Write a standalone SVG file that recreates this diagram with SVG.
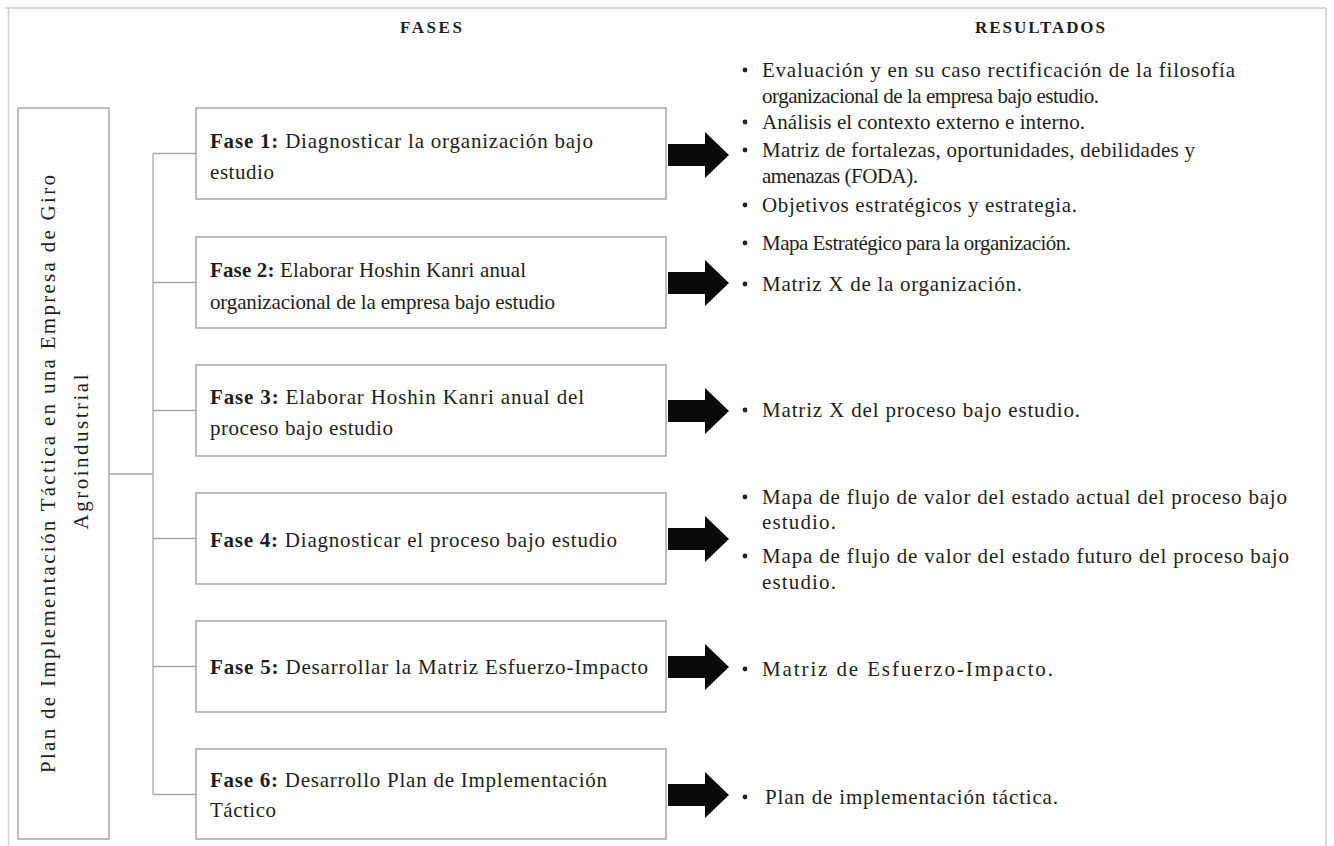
<svg xmlns="http://www.w3.org/2000/svg" width="1334" height="846" viewBox="0 0 1334 846">
  <style>
    .frame { stroke: #cfcfcf; stroke-width: 1.5; fill: none; }
    .box { fill: #ffffff; stroke: #9a9a9a; stroke-width: 1.3; }
    .link { stroke: #a8a8a8; stroke-width: 1.3; fill: none; }
    .arrow { fill: #0a0a0a; }
    .txt { font-family: "Liberation Serif", "Times New Roman", serif; font-size: 21px; fill: #1e1e1e; }
    .hdr { font-family: "Liberation Serif", "Times New Roman", serif; font-size: 17px; font-weight: bold; fill: #1e1e1e; }
    .b { font-weight: bold; }
    .dot { fill: #222222; }
  </style>
  <defs>
    <polygon id="blockArrow" class="arrow" points="0,-11 37,-11 37,-23 61,0 37,23 37,11 0,11"/>
  </defs>

  <rect width="1334" height="846" fill="#ffffff"/>

  <!-- outer page frame -->
  <g id="frame">
    <line class="frame" x1="5" y1="8" x2="1326" y2="8"/>
    <line class="frame" x1="8.5" y1="8" x2="8.5" y2="846" stroke="#bdbdbd"/>
    <line class="frame" x1="1326" y1="8" x2="1326" y2="846"/>
  </g>

  <!-- column headers -->
  <text class="hdr" x="400" y="33" textLength="62">FASES</text>
  <text class="hdr" x="975" y="33" textLength="130">RESULTADOS</text>

  <!-- root node -->
  <g id="root">
    <rect class="box" x="18" y="108" width="91" height="731"/>
    <text class="txt" font-size="23" text-anchor="middle" textLength="598" transform="translate(55,474) rotate(-90)">Plan de Implementación Táctica en una Empresa de Giro</text>
    <text class="txt" font-size="23" text-anchor="middle" textLength="155" transform="translate(88,452) rotate(-90)">Agroindustrial</text>
  </g>

  <!-- tree connectors -->
  <g id="connectors">
    <line class="link" x1="109" y1="474" x2="153" y2="474"/>
    <line class="link" x1="153" y1="153.5" x2="153" y2="794.5"/>
    <line class="link" x1="153" y1="153.5" x2="196" y2="153.5"/>
    <line class="link" x1="153" y1="282.5" x2="196" y2="282.5"/>
    <line class="link" x1="153" y1="410.5" x2="196" y2="410.5"/>
    <line class="link" x1="153" y1="538.5" x2="196" y2="538.5"/>
    <line class="link" x1="153" y1="666.5" x2="196" y2="666.5"/>
    <line class="link" x1="153" y1="794.5" x2="196" y2="794.5"/>
    <use href="#blockArrow" x="668" y="155"/>
    <use href="#blockArrow" x="668" y="283"/>
    <use href="#blockArrow" x="668" y="411"/>
    <use href="#blockArrow" x="668" y="539"/>
    <use href="#blockArrow" x="668" y="667"/>
    <use href="#blockArrow" x="668" y="795"/>
  </g>

  <!-- phases -->
  <g id="fase1">
    <rect class="box" x="196" y="108" width="470" height="91"/>
    <text class="txt" x="210" y="148" textLength="383"><tspan class="b">Fase 1:</tspan> Diagnosticar la organización bajo</text>
    <text class="txt" x="210" y="179" textLength="64">estudio</text>
  </g>
  <g id="fase2">
    <rect class="box" x="196" y="237" width="470" height="91"/>
    <text class="txt" x="210" y="277" textLength="316"><tspan class="b">Fase 2:</tspan> Elaborar Hoshin Kanri anual</text>
    <text class="txt" x="210" y="309" textLength="345">organizacional de la empresa bajo estudio</text>
  </g>
  <g id="fase3">
    <rect class="box" x="196" y="365" width="470" height="91"/>
    <text class="txt" x="210" y="404" textLength="374"><tspan class="b">Fase 3:</tspan> Elaborar Hoshin Kanri anual del</text>
    <text class="txt" x="210" y="435" textLength="183">proceso bajo estudio</text>
  </g>
  <g id="fase4">
    <rect class="box" x="196" y="493" width="470" height="91"/>
    <text class="txt" x="210" y="547" textLength="407"><tspan class="b">Fase 4:</tspan> Diagnosticar el proceso bajo estudio</text>
  </g>
  <g id="fase5">
    <rect class="box" x="196" y="621" width="470" height="91"/>
    <text class="txt" x="210" y="674" textLength="438"><tspan class="b">Fase 5:</tspan> Desarrollar la Matriz Esfuerzo-Impacto</text>
  </g>
  <g id="fase6">
    <rect class="box" x="196" y="749" width="470" height="90"/>
    <text class="txt" x="210" y="787" textLength="397"><tspan class="b">Fase 6:</tspan> Desarrollo Plan de Implementación</text>
    <text class="txt" x="210" y="817" textLength="66">Táctico</text>
  </g>

  <!-- results -->
  <g id="resultados1">
    <circle class="dot" cx="745" cy="70" r="2.4"/>
    <text class="txt" x="762" y="77" textLength="473">Evaluación y en su caso rectificación de la filosofía</text>
    <text class="txt" x="762" y="103" textLength="337">organizacional de la empresa bajo estudio.</text>
    <circle class="dot" cx="745" cy="122" r="2.4"/>
    <text class="txt" x="762" y="129" textLength="323">Análisis el contexto externo e interno.</text>
    <circle class="dot" cx="745" cy="150" r="2.4"/>
    <text class="txt" x="762" y="157" textLength="433">Matriz de fortalezas, oportunidades, debilidades y</text>
    <text class="txt" x="762" y="183" textLength="156">amenazas (FODA).</text>
    <circle class="dot" cx="745" cy="205" r="2.4"/>
    <text class="txt" x="762" y="212" textLength="315">Objetivos estratégicos y estrategia.</text>
  </g>
  <g id="resultados2">
    <circle class="dot" cx="745" cy="243" r="2.4"/>
    <text class="txt" x="762" y="250" textLength="309">Mapa Estratégico para la organización.</text>
    <circle class="dot" cx="745" cy="284" r="2.4"/>
    <text class="txt" x="762" y="291" textLength="260">Matriz X de la organización.</text>
  </g>
  <g id="resultados3">
    <circle class="dot" cx="745" cy="410" r="2.4"/>
    <text class="txt" x="762" y="417" textLength="318">Matriz X del proceso bajo estudio.</text>
  </g>
  <g id="resultados4">
    <circle class="dot" cx="745" cy="497" r="2.4"/>
    <text class="txt" x="762" y="504" textLength="525">Mapa de flujo de valor del estado actual del proceso bajo</text>
    <text class="txt" x="762" y="529" textLength="74">estudio.</text>
    <circle class="dot" cx="745" cy="556" r="2.4"/>
    <text class="txt" x="762" y="563" textLength="527">Mapa de flujo de valor del estado futuro del proceso bajo</text>
    <text class="txt" x="762" y="589" textLength="74">estudio.</text>
  </g>
  <g id="resultados5">
    <circle class="dot" cx="745" cy="669" r="2.4"/>
    <text class="txt" x="762" y="676" textLength="291">Matriz de Esfuerzo-Impacto.</text>
  </g>
  <g id="resultados6">
    <circle class="dot" cx="745" cy="797" r="2.4"/>
    <text class="txt" x="765" y="804" textLength="293">Plan de implementación táctica.</text>
  </g>
</svg>
